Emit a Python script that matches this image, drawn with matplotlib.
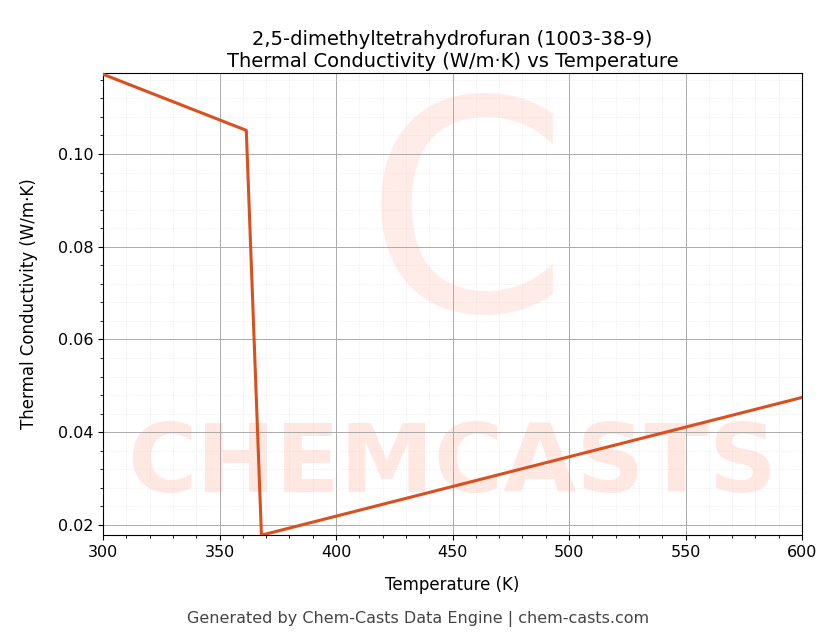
import matplotlib
matplotlib.use("Agg")
import matplotlib.pyplot as plt
from matplotlib.ticker import AutoMinorLocator

temps = [300, 361.5, 368, 600]
conds = [0.1172, 0.1051, 0.0178, 0.0475]

fig = plt.figure(figsize=(8.36, 6.44), dpi=100)
ax = fig.add_axes([103/836, 1-535/644, (802-103)/836, (535-73)/644])
ax.text(0.5, 0.15, "CHEMCASTS", transform=ax.transAxes, ha="center", va="center",
        fontsize=68, fontweight="bold", color="#ff6040", alpha=0.15, zorder=0, clip_on=True)
ax.text(0.52, 0.66, "C", transform=ax.transAxes, ha="center", va="center",
        fontsize=210, color="#ff6040", alpha=0.12, zorder=0, clip_on=True)
ax.plot(temps, conds, color="#d9501e", lw=2.2, zorder=3)
ax.set_xlim(300, 600)
ax.set_ylim(0.01784, 0.11747)
ax.set_xticks([300, 350, 400, 450, 500, 550, 600])
ax.set_yticks([0.02, 0.04, 0.06, 0.08, 0.10])
ax.xaxis.set_minor_locator(AutoMinorLocator(5))
ax.yaxis.set_minor_locator(AutoMinorLocator(5))
ax.grid(which="major", color="#aaaaaa", lw=0.7)
ax.grid(which="minor", color="#dddddd", lw=0.4, ls=":")
ax.tick_params(labelsize=11.5)
ax.set_xlabel("Temperature (K)", fontsize=12, labelpad=12)
ax.set_ylabel("Thermal Conductivity (W/m·K)", fontsize=12, labelpad=14)
ax.set_title("2,5-dimethyltetrahydrofuran (1003-38-9)\nThermal Conductivity (W/m·K) vs Temperature", fontsize=14, pad=4)
fig.text(0.5, 0.032, "Generated by Chem-Casts Data Engine | chem-casts.com", ha="center",
         fontsize=11.5, color="#444444")
fig.savefig("out.png", dpi=100)
